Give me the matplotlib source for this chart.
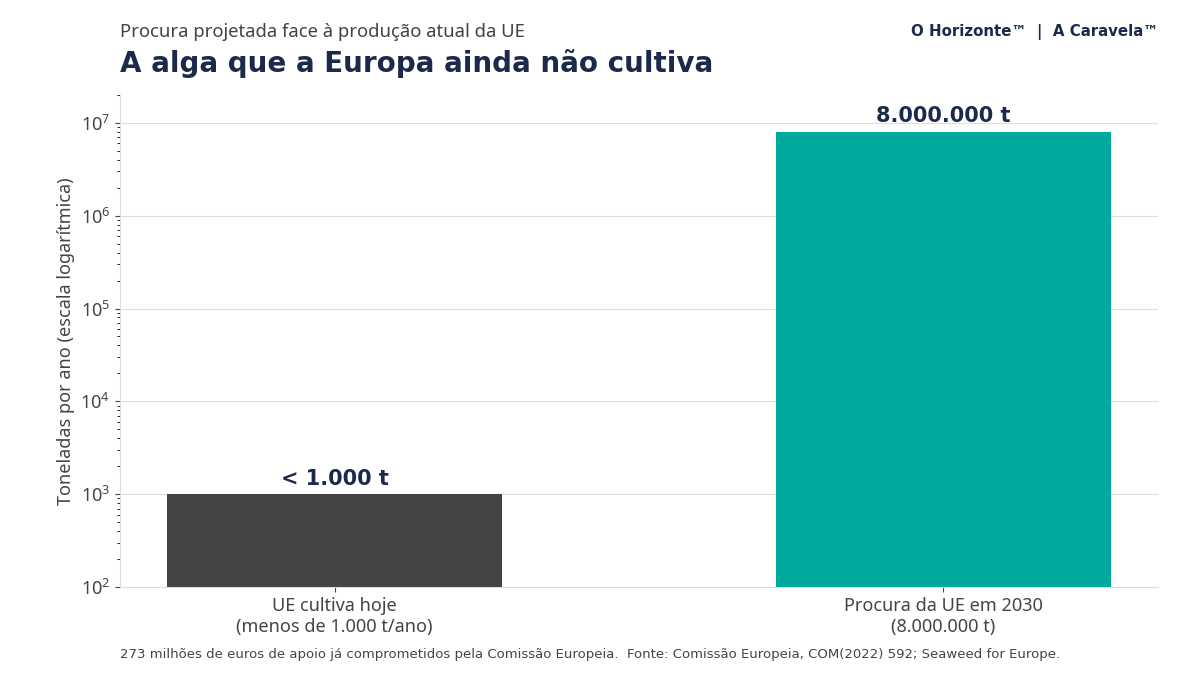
import matplotlib
matplotlib.use("Agg")
import matplotlib.pyplot as plt

categories = ["UE cultiva hoje\n(menos de 1.000 t/ano)", "Procura da UE em 2030\n(8.000.000 t)"]
values = [1000, 8000000]
bar_labels = ["< 1.000 t", "8.000.000 t"]
colors = ["#444444", "#00a99d"]

navy = "#1b2a4a"
grey = "#444444"

plt.rcParams["font.family"] = ["Noto Sans", "DejaVu Sans"]

fig = plt.figure(figsize=(12, 6.75), dpi=100)
ax = fig.add_axes([0.1, 0.1304, 0.865, 0.729])

x = range(len(values))
ax.bar(x, values, width=0.55, color=colors, bottom=0, zorder=3)
ax.set_yscale("log")
ax.set_ylim(100, 2e7)

for xi, v, lab in zip(x, values, bar_labels):
    ax.annotate(lab, (xi, v), xytext=(0, 4), textcoords="offset points",
                ha="center", va="bottom", fontsize=15, fontweight="bold",
                color=navy, family="DejaVu Sans")

ax.set_xticks(list(x))
ax.set_xticklabels(categories, fontsize=13, color=grey)
ax.tick_params(axis="y", labelsize=13, colors=grey)
ax.tick_params(axis="x", colors=grey)
ax.set_ylabel("Toneladas por ano (escala logarítmica)", fontsize=13, color=grey)

ax.grid(axis="y", which="major", color="#dddddd", linewidth=0.8, zorder=0)
ax.set_axisbelow(True)
for s in ["top", "right"]:
    ax.spines[s].set_visible(False)
for s in ["left", "bottom"]:
    ax.spines[s].set_color("#dddddd")

fig.text(0.1, 0.953, "Procura projetada face à produção atual da UE",
         fontsize=13.3, color=grey, ha="left", va="center")
fig.text(0.1, 0.906, "A alga que a Europa ainda não cultiva",
         fontsize=20, fontweight="bold", color=navy, ha="left", va="center",
         family="DejaVu Sans")
fig.text(0.965, 0.953, "O Horizonte™  |  A Caravela™",
         fontsize=10.8, fontweight="bold", color=navy, ha="right", va="center",
         family="DejaVu Sans")
fig.text(0.1, 0.031,
         "273 milhões de euros de apoio já comprometidos pela Comissão Europeia.  "
         "Fonte: Comissão Europeia, COM(2022) 592; Seaweed for Europe.",
         fontsize=9.5, color=grey, ha="left", va="center", family="DejaVu Sans")

fig.savefig("out.png", dpi=100)
